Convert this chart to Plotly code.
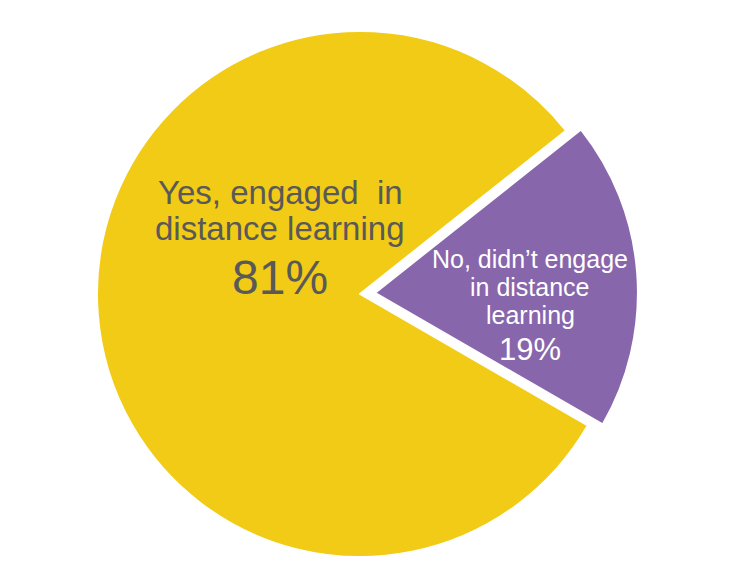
import plotly.graph_objects as go

# ---- data ----
categories = ["No, didn’t engage in distance learning", "Yes, engaged in distance learning"]
values = [19, 81]
label_lines = [["No, didn’t engage", "in distance", "learning"],
               ["Yes, engaged  in", "distance learning"]]
colors = ["#8866AC", "#F1CB15"]

W, H = 731, 585
cx, cy, R = 360, 294, 263
pull = 0.057

fig = go.Figure(go.Pie(
    labels=categories,
    values=values,
    sort=False,
    direction="clockwise",
    rotation=51.6,
    pull=[pull, 0],
    marker=dict(colors=colors, line=dict(color="white", width=2)),
    textinfo="none",
    hoverinfo="label+percent",
    showlegend=False,
    domain=dict(x=[(cx - 330) / W, (cx + 330) / W],
                y=[1 - (cy + R * (1 + pull)) / H, 1 - (cy - R * (1 + pull)) / H]),
))

font_family = "Arial, Liberation Sans, sans-serif"
# label layout (positions/sizes)
styles = [
    dict(x=530, ys=[259, 287, 315], pct_y=349, size=25, pct_size=31, color="white"),
    dict(x=280, ys=[193, 229], pct_y=277, size=33, pct_size=48, color="#595959"),
]
total = sum(values)
annotations = []
for lines, v, st in zip(label_lines, values, styles):
    for line, y in zip(lines, st["ys"]):
        annotations.append(dict(text=line.replace("  ", "&nbsp; "), x=st["x"] / W, y=1 - y / H,
                                xref="paper", yref="paper",
                                xanchor="center", yanchor="middle", showarrow=False,
                                font=dict(family=font_family, size=st["size"], color=st["color"])))
    annotations.append(dict(text=f"{round(100 * v / total)}%", x=st["x"] / W, y=1 - st["pct_y"] / H,
                            xref="paper", yref="paper", xanchor="center", yanchor="middle",
                            showarrow=False,
                            font=dict(family=font_family, size=st["pct_size"], color=st["color"])))

fig.update_layout(
    width=W, height=H,
    margin=dict(l=0, r=0, t=0, b=0),
    paper_bgcolor="white",
    plot_bgcolor="white",
    annotations=annotations,
)
fig.write_html("out.html", config={"displayModeBar": False},
               post_script="document.body.style.margin='0';")
